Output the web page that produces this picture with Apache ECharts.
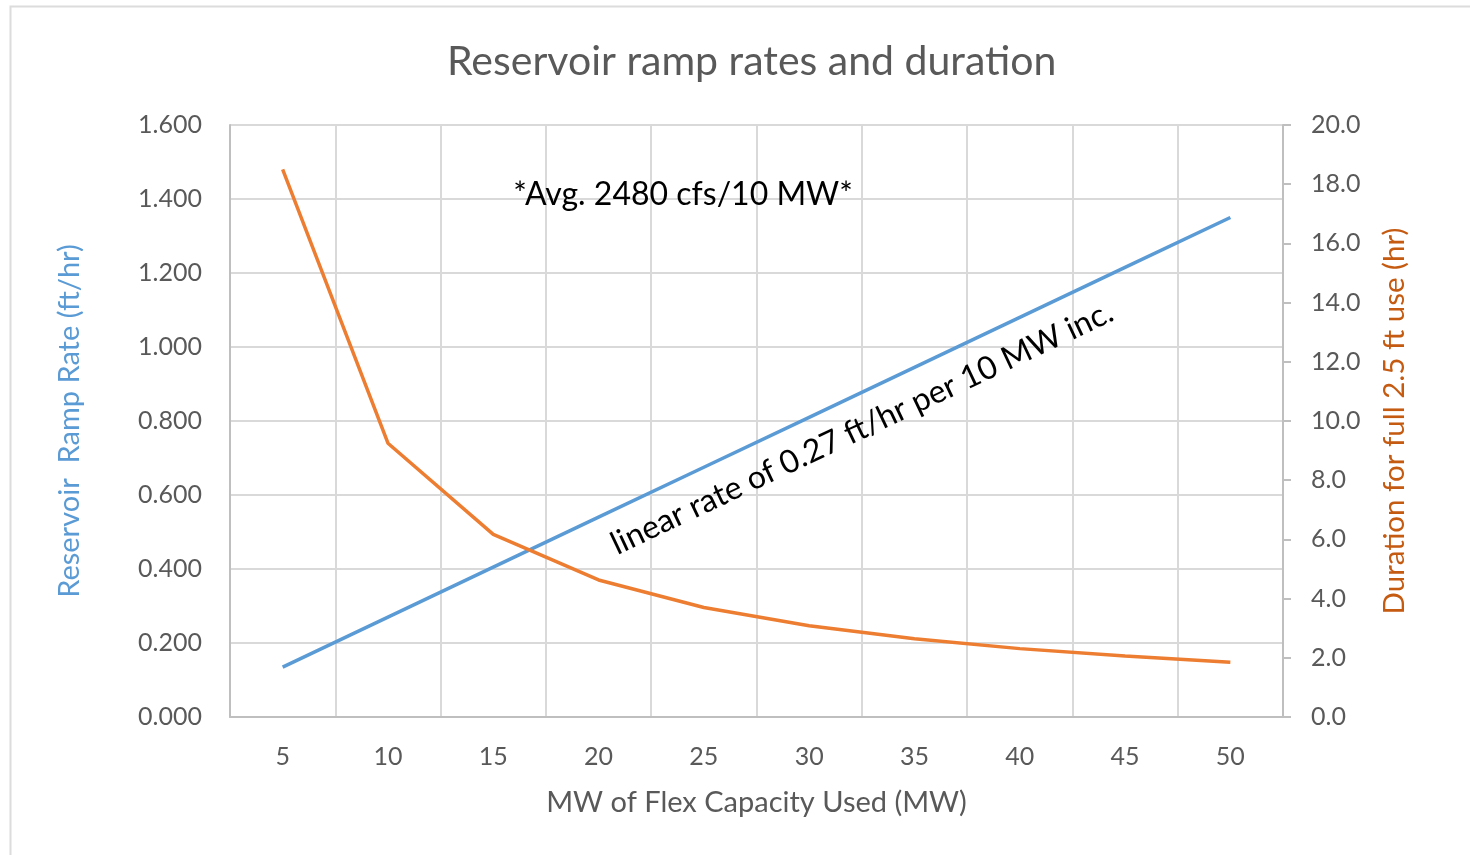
<!DOCTYPE html>
<html>
<head>
<meta charset="utf-8">
<script src="https://cdn.jsdelivr.net/npm/echarts@6/dist/echarts.min.js"></script>
<style>html,body{margin:0;padding:0;background:#fff;}#c{width:1470px;height:855px;}</style>
</head>
<body>
<div id="c"></div>
<script>
const categories = ['5','10','15','20','25','30','35','40','45','50'];
const rampRate = [0.135, 0.270, 0.405, 0.540, 0.675, 0.810, 0.945, 1.080, 1.215, 1.350];
const duration = [18.5, 9.25, 6.17, 4.63, 3.70, 3.08, 2.64, 2.31, 2.06, 1.85];
const titleText = 'Reservoir ramp rates and duration';
const xName = 'MW of Flex Capacity Used (MW)';
const leftName = 'Reservoir  Ramp Rate (ft/hr)';
const rightName = 'Duration for full 2.5 ft use (hr)';
const note1 = '*Avg. 2480 cfs/10 MW*';
const note2 = 'linear rate of 0.27 ft/hr per 10 MW inc.';

const FONT = 'Lato';
const chart = echarts.init(document.getElementById('c'));
chart.setOption({
  backgroundColor: '#fff',
  animation: false,
  textStyle: { fontFamily: FONT },
  title: {
    text: titleText, left: 442, top: 36,
    textStyle: { fontFamily: FONT, fontSize: 41, fontWeight: 'normal', color: '#595959' }
  },
  grid: { left: 230, right: 187, top: 125, bottom: 138 },
  xAxis: {
    type: 'category', data: categories, boundaryGap: true,
    name: xName, nameLocation: 'middle', nameGap: 71,
    nameTextStyle: { fontFamily: FONT, fontSize: 29, color: '#595959' },
    axisLine: { lineStyle: { color: '#bfbfbf', width: 2 } },
    axisTick: { show: false },
    axisLabel: { margin: 27, fontSize: 25, color: '#595959', fontFamily: FONT },
    splitLine: { show: true, interval: 0, lineStyle: { color: '#d9d9d9', width: 2 } }
  },
  yAxis: [{
    type: 'value', min: 0, max: 1.6, interval: 0.2, position: 'left',
    name: leftName, nameLocation: 'middle', nameGap: 146, nameRotate: 90,
    nameTextStyle: { fontFamily: FONT, fontSize: 29, color: '#5b9bd5' },
    axisLine: { show: true, lineStyle: { color: '#bfbfbf', width: 2 } },
    axisTick: { show: false },
    axisLabel: { margin: 28, fontSize: 25, color: '#595959', fontFamily: FONT, formatter: v => v.toFixed(3) },
    splitLine: { show: true, lineStyle: { color: '#d9d9d9', width: 2 } }
  }, {
    type: 'value', min: 0, max: 20, interval: 2, position: 'right',
    name: rightName, nameLocation: 'middle', nameGap: 96, nameRotate: 90,
    nameTextStyle: { fontFamily: FONT, fontSize: 29.5, color: '#c55a11' },
    axisLine: { show: true, lineStyle: { color: '#bfbfbf', width: 2 } },
    axisTick: { show: true, length: 8, lineStyle: { color: '#bfbfbf', width: 2 } },
    axisLabel: { margin: 28, fontSize: 25, color: '#595959', fontFamily: FONT, formatter: v => v.toFixed(1) },
    splitLine: { show: false }
  }],
  series: [{
    name: 'Ramp rate', type: 'line', data: rampRate, yAxisIndex: 0,
    showSymbol: false, symbol: 'none',
    lineStyle: { color: '#5b9bd5', width: 3.5 }, itemStyle: { color: '#5b9bd5' }, z: 3
  }, {
    name: 'Duration', type: 'line', data: duration, yAxisIndex: 1,
    showSymbol: false, symbol: 'none',
    lineStyle: { color: '#ed7d31', width: 3.5 }, itemStyle: { color: '#ed7d31' }, z: 4
  }],
  graphic: [
    { type: 'rect', left: 8, top: 4, z: -10, silent: true,
      shape: { width: 1480, height: 870 },
      style: { fill: 'none', stroke: '#dcdcdc', lineWidth: 2 } },
    { type: 'text', x: 683, y: 195, z: 10,
      style: { text: note1, fill: '#000', fontFamily: FONT, fontSize: 32, align: 'center', verticalAlign: 'middle' } },
    { type: 'text', x: 862, y: 428, rotation: 25.3 * Math.PI / 180, z: 10,
      style: { text: note2, fill: '#000', fontFamily: FONT, fontSize: 32, align: 'center', verticalAlign: 'middle' } }
  ]
});
</script>
</body>
</html>
